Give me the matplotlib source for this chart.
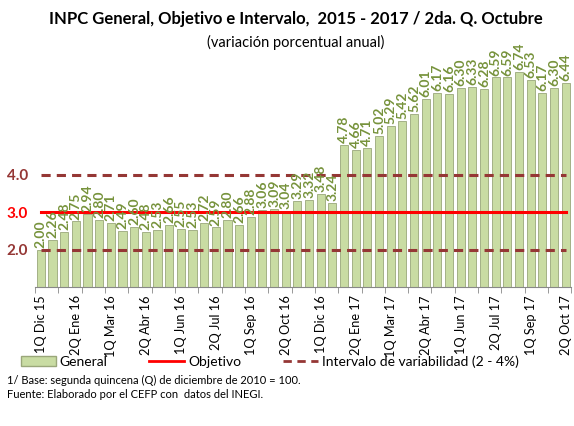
import matplotlib.pyplot as plt
from matplotlib.lines import Line2D
from matplotlib.patches import Patch

plt.rcParams['font.family'] = ['Lato', 'DejaVu Sans']

# datos (variacion porcentual anual, quincenal)
quincenas = ["1Q Dic 15", "2Q Dic 15", "1Q Ene 16", "2Q Ene 16", "1Q Feb 16", "2Q Feb 16",
             "1Q Mar 16", "2Q Mar 16", "1Q Abr 16", "2Q Abr 16", "1Q May 16", "2Q May 16",
             "1Q Jun 16", "2Q Jun 16", "1Q Jul 16", "2Q Jul 16", "1Q Ago 16", "2Q Ago 16",
             "1Q Sep 16", "2Q Sep 16", "1Q Oct 16", "2Q Oct 16", "1Q Nov 16", "2Q Nov 16",
             "1Q Dic 16", "2Q Dic 16", "1Q Ene 17", "2Q Ene 17", "1Q Feb 17", "2Q Feb 17",
             "1Q Mar 17", "2Q Mar 17", "1Q Abr 17", "2Q Abr 17", "1Q May 17", "2Q May 17",
             "1Q Jun 17", "2Q Jun 17", "1Q Jul 17", "2Q Jul 17", "1Q Ago 17", "2Q Ago 17",
             "1Q Sep 17", "2Q Sep 17", "1Q Oct 17", "2Q Oct 17"]
general = [2.00, 2.26, 2.48, 2.75, 2.94, 2.80, 2.71, 2.49, 2.60, 2.48, 2.53, 2.66,
           2.55, 2.53, 2.72, 2.59, 2.80, 2.66, 2.88, 3.06, 3.09, 3.04, 3.29, 3.32,
           3.48, 3.24, 4.78, 4.66, 4.71, 5.02, 5.29, 5.42, 5.62, 6.01, 6.17, 6.16,
           6.30, 6.33, 6.28, 6.59, 6.59, 6.74, 6.53, 6.17, 6.30, 6.44]
objetivo = [3.0] * len(general)
limite_inf = [2.0] * len(general)
limite_sup = [4.0] * len(general)

x = list(range(len(general)))

fig = plt.figure(figsize=(5.74, 4.26), dpi=100)
ax = fig.add_axes([0.061, 0.3263, 0.9345, 0.572])

ax.bar(x, general, width=0.7, bottom=0, color='#c9dca3', edgecolor='#9aa77a', linewidth=0.6, zorder=2)
ax.plot(x, objetivo, color='#ff0000', lw=2.2, zorder=3)
ax.plot(x, limite_inf, color='#953735', lw=2.2, ls=(0, (3, 2)), zorder=3)
ax.plot(x, limite_sup, color='#953735', lw=2.2, ls=(0, (3, 2)), zorder=3)

for i, v in enumerate(general):
    ax.text(i, v + 0.05, f"{v:.2f}", rotation=90, ha='center', va='bottom',
            fontsize=10, fontweight='bold', color='#77933c', zorder=4)

ax.set_xlim(-0.5, len(general) - 0.5)
ax.set_ylim(1, 7.5)

ax.set_xticks(x[::3])
ax.set_xticklabels(quincenas[::3], rotation=90, fontsize=9.2)
ax.tick_params(axis='x', length=0, pad=6)
ax.set_xticks([i - 0.5 for i in range(0, len(general) + 1, 2)], minor=True)
ax.tick_params(axis='x', which='minor', length=4, color='#888888')

ax.set_yticks([2, 3, 4])
ax.set_yticklabels(["2.0", "3.0", "4.0"], fontsize=11, fontweight='bold')
for lbl, c in zip(ax.get_yticklabels(), ['#953735', '#ff0000', '#953735']):
    lbl.set_color(c)
ax.tick_params(axis='y', length=0, pad=5)

for s in ['top', 'right', 'left']:
    ax.spines[s].set_visible(False)
ax.spines['bottom'].set_color('#888888')

fig.text(0.515, 0.955, "INPC General, Objetivo e Intervalo,  2015 - 2017 / 2da. Q. Octubre",
         ha='center', va='center', fontsize=12, fontweight='bold')
fig.text(0.515, 0.9, "(variación porcentual anual)", ha='center', va='center', fontsize=10.5)

handles = [Patch(facecolor='#c9dca3', edgecolor='#9aa77a'),
           Line2D([], [], color='#ff0000', lw=2),
           Line2D([], [], color='#953735', lw=2, ls=(0, (3, 2)))]
fig.legend(handles, ["General", "Objetivo", "Intervalo de variabilidad (2 - 4%)"],
           loc='center', bbox_to_anchor=(0.47, 0.152), ncol=3, frameon=False,
           fontsize=10, columnspacing=3, handlelength=2.5, handletextpad=0.3,
           borderpad=0.2)

fig.text(0.012, 0.107, "1/ Base: segunda quincena (Q) de diciembre de 2010 = 100.", fontsize=8, va='center')
fig.text(0.012, 0.073, "Fuente: Elaborado por el CEFP con  datos del INEGI.", fontsize=8, va='center')

fig.savefig("out.png", dpi=100)
